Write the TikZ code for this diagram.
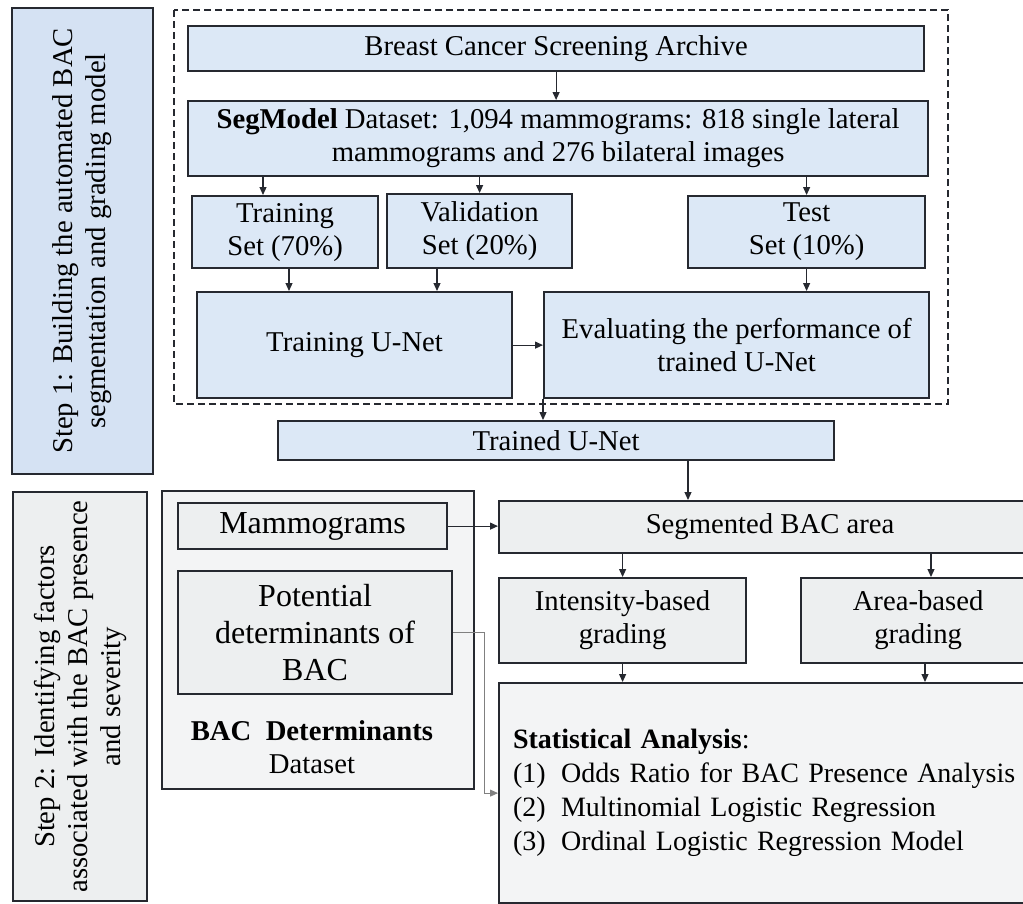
\documentclass[tikz,border=0pt]{standalone}
\usepackage{fontspec}
\setmainfont{Liberation Serif}
\usepackage{tikz}
\usetikzlibrary{arrows.meta,positioning}

\definecolor{boxblue}{RGB}{220,232,246}
\definecolor{stepblue}{RGB}{213,226,243}
\definecolor{boxgray}{RGB}{237,239,240}
\definecolor{panelgray}{RGB}{243,244,245}
\definecolor{edge}{RGB}{38,41,48}

\tikzset{
  blue box/.style={draw=edge, line width=2.2pt, fill=boxblue, align=center, inner sep=2pt, anchor=north west},
  gray box/.style={blue box, fill=boxgray},
  arr/.style={-{Triangle[length=8pt,width=7pt]}, line width=1.2pt, draw=edge},
}

\begin{document}
\begin{tikzpicture}[x=1pt,y=-1pt,font=\fontsize{28.7}{33}\selectfont]
        \useasboundingbox (0,0) rectangle (1023,903);
        \clip (0,0) rectangle (1023,903);
        % Step 1
        \node[blue box, fill=stepblue, rotate=90, anchor=center, minimum width=466pt, minimum height=141pt] (step1) at (82.5,241) {Step 1: Building the automated BAC\\segmentation and grading model};
        \draw[draw=edge, line width=1.3pt, dash pattern=on 7pt off 4pt] (174,10) rectangle (948,404);
        \node[blue box, minimum width=736pt, minimum height=45pt] (archive) at (187,25) {Breast Cancer Screening Archive};
        \node[blue box, minimum width=740pt, minimum height=75pt] (segmodel) at (187,100) {\textbf{SegModel} Dataset: 1,094 mammograms: 818 single lateral\\mammograms and 276 bilateral images};
        \node[blue box, minimum width=186pt, minimum height=72pt] (trainset) at (191,195) {Training\\Set (70\%)};
        \node[blue box, minimum width=185pt, minimum height=74pt] (valset) at (386,193) {Validation\\Set (20\%)};
        \node[blue box, minimum width=237pt, minimum height=72pt] (testset) at (687,195) {Test\\Set (10\%)};
        \node[blue box, minimum width=315pt, minimum height=106pt] (trainunet) at (196,291) {Training U-Net};
        \node[blue box, minimum width=385pt, minimum height=106pt] (evalunet) at (543,291) {Evaluating the performance of\\trained U-Net};
        \node[blue box, minimum width=556pt, minimum height=39pt] (trained) at (277,420) {Trained U-Net};

        % Step 2
        \node[gray box, rotate=90, anchor=center, minimum width=409pt, minimum height=134pt] (step2) at (80,696.5) {Step 2: Identifying factors\\associated with the BAC presence\\and severity};
        \node[gray box, fill=panelgray, line width=1.6pt, minimum width=312pt, minimum height=298pt] (detset) at (161,490) {};
        \node[gray box, font=\fontsize{32}{37}\selectfont, minimum width=269pt, minimum height=46pt] (mammo) at (177,502) {Mammograms};
        \node[gray box, font=\fontsize{32}{37}\selectfont, minimum width=274pt, minimum height=123pt] (potdet) at (177,570) {Potential\\determinants of\\BAC};
        \node[align=center] (detlabel) at (312,747) {\textbf{BAC\ \ Determinants}\\Dataset};
        \node[gray box, minimum width=542pt, minimum height=52pt] (seg) at (498,500) {Segmented BAC area};
        \node[gray box, minimum width=247pt, minimum height=85pt] (intens) at (498,577) {Intensity-based\\grading};
        \node[gray box, minimum width=234pt, minimum height=85pt] (areab) at (800,577) {Area-based\\grading};
        \node[gray box, fill=panelgray, font=\fontsize{28}{34}\selectfont, text width=514pt, align=left, inner sep=14pt, minimum height=220pt] (stat) at (498,682) {\textbf{Statistical Analysis}:\\
          \makebox[48pt][l]{(1)}Odds Ratio for BAC Presence Analysis\\
          \makebox[48pt][l]{(2)}Multinomial Logistic Regression\\
          \makebox[48pt][l]{(3)}Ordinal Logistic Regression Model};

        % arrows
        \coordinate (xtrain) at (263,0);
        \coordinate (xtrun) at (289,0);
        \coordinate (xvalun) at (437,0);
        \coordinate (xtrained) at (688,0);
        \coordinate (xarea) at (931,0);
        \coordinate (xstat) at (925,0);
        \draw[arr] (archive.south) -- (archive.south |- segmodel.north);
        \draw[arr] (segmodel.south -| xtrain) -- (trainset.north -| xtrain);
        \draw[arr] (segmodel.south -| valset.north) -- (valset.north);
        \draw[arr] (segmodel.south -| testset.north) -- (testset.north);
        \draw[arr] (trainset.south -| xtrun) -- (trainunet.north -| xtrun);
        \draw[arr] (valset.south -| xvalun) -- (trainunet.north -| xvalun);
        \draw[arr] (testset.south) -- (testset.south |- evalunet.north);
        \draw[arr] (trainunet.east) -- (evalunet.west);
        \draw[arr] (evalunet.south west) -- (evalunet.south west |- trained.north);
        \draw[arr] (trained.south -| xtrained) -- (seg.north -| xtrained);
        \draw[arr] (mammo.east) -- (mammo.east -| seg.west);
        \draw[arr] (seg.south -| intens.north) -- (intens.north);
        \draw[arr] (seg.south -| xarea) -- (areab.north -| xarea);
        \draw[arr] (intens.south) -- (intens.south |- stat.north);
        \draw[arr] (areab.south -| xstat) -- (stat.north -| xstat);
        \draw[arr, line width=0.8pt, draw=gray] (potdet.east) -- ++(31,0) |- (stat.west);
      \end{tikzpicture}
\end{document}
